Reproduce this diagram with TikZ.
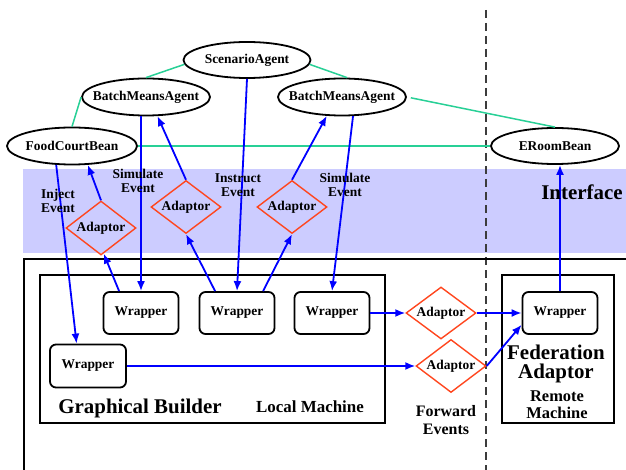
\documentclass[tikz,border=0pt]{standalone}
\usepackage{fontspec}
\setmainfont{Liberation Serif}
\usetikzlibrary{shapes.geometric,arrows.meta,calc}
\definecolor{flow}{RGB}{0,0,255}
\definecolor{tie}{RGB}{40,208,150}
\definecolor{adapt}{RGB}{255,70,30}
\definecolor{band}{RGB}{204,204,255}
\definecolor{dashgray}{RGB}{60,60,60}
\newcommand\zw[1]{\makebox[0pt]{#1}}
\begin{document}
\begin{tikzpicture}[x=1bp,y=-1bp,
  every node/.style={font=\bfseries\fontsize{13.5}{14}\selectfont},
  agent/.style={ellipse,draw=black,line width=1.8bp,minimum width=128bp,minimum height=37bp,inner sep=0pt,fill=white},
  wrap/.style={draw=black,line width=1.8bp,rounded corners=6bp,minimum width=75bp,minimum height=42bp,inner sep=0pt,fill=white},
  adaptor/.style={diamond,draw=adapt,line width=1.4bp,minimum width=70bp,minimum height=53bp,inner sep=0pt,shape aspect=1.3},
  flowarrow/.style={draw=flow,line width=1.8bp,-{Latex[length=10bp,width=8bp]}},
  tieline/.style={draw=tie,line width=1.5bp},
  frame/.style={draw=black,line width=1.5bp},
  lbl/.style={align=center,inner sep=0pt},
]
\useasboundingbox (0,0) rectangle (626,470);
% interface band
\fill[band] (23,169) rectangle (626,253);
% dashed separator
\draw[dashgray,line width=2bp,dash pattern=on 8bp off 5bp] (486,10) -- (486,470);
% frames
\draw[frame] (24,470) -- (24,259) -- (626,259);
\draw[frame] (40,275) rectangle (385,423);
\draw[frame] (502,275) rectangle (614,423);

% agents / beans
\node[agent,minimum width=127bp,minimum height=36bp] (sa) at (247,60) {\zw{ScenarioAgent}};
\node[agent] (bml) at (146,97) {\zw{BatchMeansAgent}};
\node[agent] (bmr) at (342,97) {\zw{BatchMeansAgent}};
\node[agent,minimum width=130bp] (fcb) at (72,146) {\zw{FoodCourtBean}};
\node[agent,minimum height=36bp] (erb) at (555,146) {\zw{ERoomBean}};

% green ties
\draw[tieline] (sa.184) -- (bml.north);
\draw[tieline] (sa.356) -- (bmr.75);
\draw[tieline] (bml.west) -- (fcb.north);
\draw[tieline] (fcb.east) -- (erb.west);
\draw[tieline,shorten <=4bp] (bmr.east) -- (erb.north);

% wrappers
\node[wrap] (w1) at (141,313) {Wrapper};
\node[wrap] (w2) at (237,313) {Wrapper};
\node[wrap] (w3) at (332,313) {Wrapper};
\node[wrap,minimum width=76bp,minimum height=43bp] (w4) at (88,366) {Wrapper};
\node[wrap] (w5) at (560,313) {Wrapper};

% adaptors
\node[adaptor,minimum height=54bp] (a1) at (101,228) {Adaptor};
\node[adaptor] (a2) at (186,207) {Adaptor};
\node[adaptor] (a3) at (292,207) {Adaptor};
\node[adaptor,minimum height=52bp] (a4) at (441,313) {Adaptor};
\node[adaptor] (a5) at (451,366) {Adaptor};

% blue flows
\draw[flowarrow] (fcb.230) -- (w4.117);
\draw[flowarrow] (a1.north) -- (fcb.310);
\draw[flowarrow] (w1.135) -- (a1.276);
\draw[flowarrow] (w1.north |- bml.south) -- (w1.north);
\draw[flowarrow] (a2.north) -- (bml.301);
\draw[flowarrow] (w2.135) -- (a2.south);
\draw[flowarrow] (sa.south) -- (w2.north);
\draw[flowarrow] (w2.40) -- (a3.south);
\draw[flowarrow] (a3.north) -- (bmr.231);
\draw[flowarrow] (bmr.300) -- (w3.north);
\draw[flowarrow] (w3.east) -- (a4.west);
\draw[flowarrow] (a4.east) -- (w5.west);
\draw[flowarrow] (w4.east) -- (a5.west);
\draw[flowarrow] (a5.east) -- (w5.197);
\draw[flowarrow] (w5.north) -- (w5.north |- erb.south);

% labels
\node[lbl] (linj) at (58,201) {Inject\\Event};
\node[lbl] (lsim1) at (138,181) {Simulate\\Event};
\node[lbl] (lins) at (238,185) {Instruct\\Event};
\node[lbl] (lsim2) at (345,185) {Simulate\\Event};
\node[lbl,font=\bfseries\fontsize{21}{22}\selectfont] (lif) at (582,192) {Interface};
\node[lbl,font=\bfseries\fontsize{21}{22}\selectfont] (lgb) at (140,408) {Graphical Builder};
\node[lbl,font=\bfseries\fontsize{17}{17}\selectfont] (llm) at (310,407) {Local Machine};
\node[lbl,font=\bfseries\fontsize{16}{18}\selectfont] (lfe) at (446,420) {Forward\\Events};
\node[lbl,font=\bfseries\fontsize{21}{20}\selectfont] (lfa) at (556,364) {Federation\\Adaptor};
\node[lbl,font=\bfseries\fontsize{16.5}{17}\selectfont] (lrm) at (557,405) {Remote\\Machine};
\end{tikzpicture}
\end{document}
